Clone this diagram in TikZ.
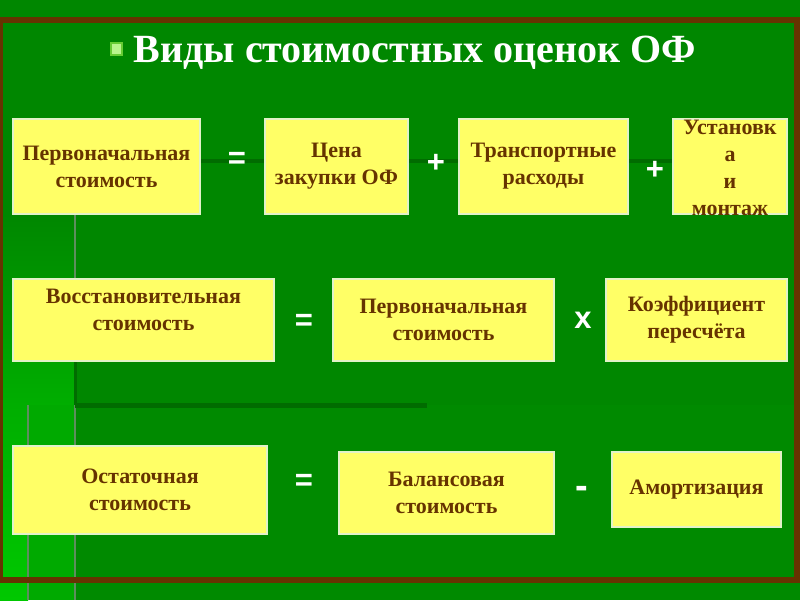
\documentclass[tikz,border=0pt]{standalone}
\usepackage{fontspec}
\setmainfont{Liberation Serif}
\newfontfamily\opfont{Liberation Sans}
\definecolor{bgmain}{HTML}{008700}
\definecolor{bglite}{HTML}{00AE00}
\definecolor{bgbright}{HTML}{00C800}
\definecolor{frame}{HTML}{663300}
\definecolor{boxfill}{HTML}{FFFF66}
\definecolor{boxline}{HTML}{E2F2C8}
\definecolor{boxtext}{HTML}{663300}
\definecolor{texline}{HTML}{5E8E5E}
\definecolor{darkline}{HTML}{006C00}
\definecolor{bulletout}{HTML}{66CC33}
\definecolor{bulletin}{HTML}{B8F58C}
\tikzset{
  box/.style={draw=boxline, line width=1.5pt, fill=boxfill, text=boxtext,
    font=\fontsize{22}{27}\selectfont\bfseries, align=center, inner sep=0pt},
  boxlabel/.style={text=boxtext, font=\fontsize{22}{27}\selectfont\bfseries,
    align=center, inner sep=0pt},
  op/.style={text=white, font=\opfont\bfseries\fontsize{31}{31}\selectfont, inner sep=0pt},
}
\begin{document}
\begin{tikzpicture}[x=1pt,y=-1pt]
\useasboundingbox (0,0) rectangle (800,600);
% background
\fill[bgmain] (0,0) rectangle (800,600);
\shade[top color=bgmain, bottom color=bglite] (0,214) rectangle (75,405);
\fill[bglite!90!bgmain] (28,405) rectangle (75,600);
\shade[top color=bglite, bottom color=bgbright] (0,405) rectangle (28,600);
\fill[bgmain!92!bglite] (75,405) rectangle (800,600);
\draw[texline, line width=2pt] (75,214) -- (75,279);
\draw[texline, line width=2pt] (75,405) -- (75,600);
\draw[texline, line width=2pt] (28,405) -- (28,600);
\draw[darkline, line width=3pt] (75,361) -- (75,405);
\draw[darkline, line width=5pt] (75,405) -- (427,405);
\draw[darkline, line width=4pt] (200,161) -- (673,161);
% frame
\draw[frame, line width=6pt] (0,20) rectangle (797,580);
% title
\node[draw=bulletout, line width=2pt, fill=bulletin, minimum width=11pt, minimum height=12pt, inner sep=0pt] (blt) at (116.5,49) {};
\node[text=white, font=\fontsize{40}{40}\selectfont\bfseries, anchor=base, inner sep=0pt] (title) at (415,62) {Виды стоимостных оценок ОФ};
% row 1
\node[box, minimum width=187pt, minimum height=95pt] (a) at (106.5,166.5) {Первоначальная\\стоимость};
\node[box, minimum width=143pt, minimum height=95pt] (b) at (336.5,166.5) {Цена\\закупки ОФ};
\node[box, minimum width=169pt, minimum height=95pt] (c) at (543.5,166.5) {Транспортные\\расходы};
\node[box, minimum width=114pt, minimum height=95pt] (d) at (730,166.5) {};
\node[boxlabel] (dt) at ([yshift=-1pt]d.center) {Установк\\а\\и\\монтаж};
\node[op] (eq1) at (237,160) {=};
\node[op] (pl1) at (436,163) {+};
\node[op] (pl2) at (655,170) {+};
% row 2
\node[box, minimum width=261pt, minimum height=82pt] (e) at (143.5,320) {};
\node[boxlabel] (et) at ([yshift=10pt]e.center) {Восстановительная\\стоимость};
\node[box, minimum width=221pt, minimum height=82pt] (f) at (443.5,320) {Первоначальная\\стоимость};
\node[box, minimum width=181pt, minimum height=82pt] (g) at (696.5,320) {Коэффициент\\пересчёта};
\node[op] (eq2) at (304,322.5) {=};
\node[op] (tm) at (583,320) {x};
% row 3
\node[box, minimum width=254pt, minimum height=88pt] (h) at (140,490) {Остаточная\\стоимость};
\node[box, minimum width=215pt, minimum height=82pt] (i) at (446.5,493) {Балансовая\\стоимость};
\node[box, minimum width=169pt, minimum height=75pt] (j) at (696.5,489.5) {Амортизация};
\node[op] (eq3) at (304,482) {=};
\node[op, font=\opfont\bfseries\fontsize{38}{38}\selectfont] (mn) at (582,492) {-};
\end{tikzpicture}
\end{document}
